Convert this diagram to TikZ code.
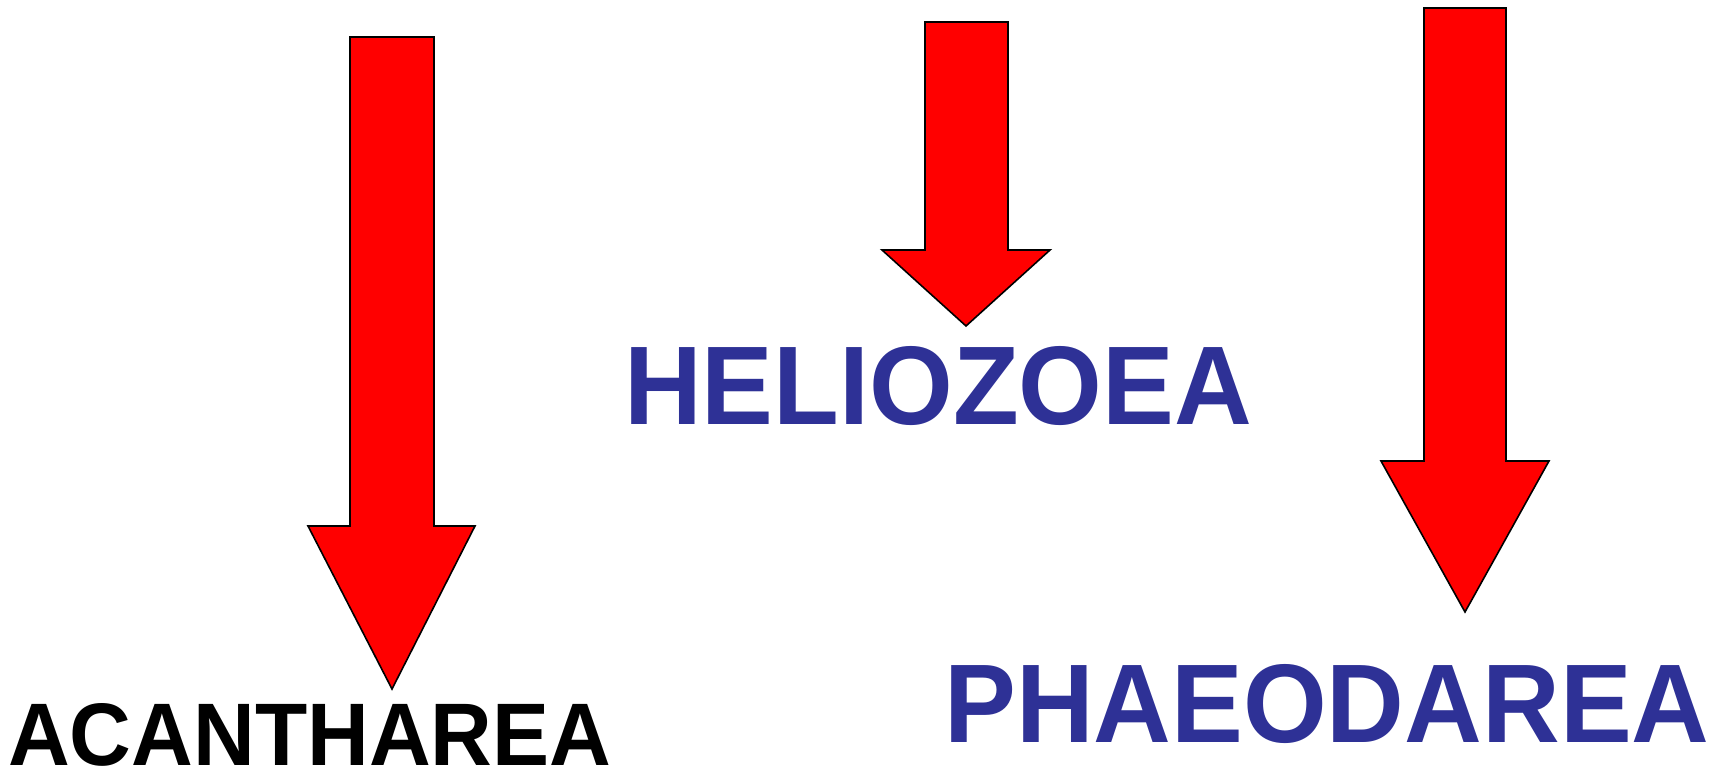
\documentclass[tikz,border=0pt]{standalone}
\usepackage{fontspec}
\setmainfont{Liberation Sans}
\definecolor{taxonblue}{RGB}{46,49,150}
\definecolor{arrowred}{RGB}{255,0,0}
% group names are set slightly taller than the plain font
\newcommand{\taxonname}[1]{\scalebox{1.006}[1.045]{#1}}
\begin{document}
\begin{tikzpicture}[x=1pt,y=-1pt,
  downarrow/.style={fill=arrowred,draw=black,line width=1.6pt,line join=miter},
  taxon/.style={anchor=base west,inner sep=0pt,font=\bfseries}]
\useasboundingbox (0,0) rectangle (1721,770);

% block arrows pointing down to each group
\draw[downarrow] (350,37) -- (434,37) -- (434,526) -- (475,526) -- (392,689)
  -- (308,526) -- (350,526) -- cycle;
\draw[downarrow] (925,22) -- (1008,22) -- (1008,250) -- (1050,250) -- (966,326)
  -- (882,250) -- (925,250) -- cycle;
\draw[downarrow] (1424,8) -- (1506,8) -- (1506,461) -- (1549,461) -- (1465,612)
  -- (1381,461) -- (1424,461) -- cycle;

% group names
\node[taxon,text=taxonblue,font=\fontsize{107}{107}\selectfont\bfseries] (helio) at (624,424) {\taxonname{HELIOZOEA}};
\node[taxon,text=black,font=\fontsize{85}{85}\selectfont\bfseries] (acan) at (8,765) {\taxonname{ACANTHAREA}};
\node[taxon,text=taxonblue,font=\fontsize{107}{107}\selectfont\bfseries] (phaeo) at (944,742) {\taxonname{PHAEODAREA}};
\end{tikzpicture}
\end{document}
